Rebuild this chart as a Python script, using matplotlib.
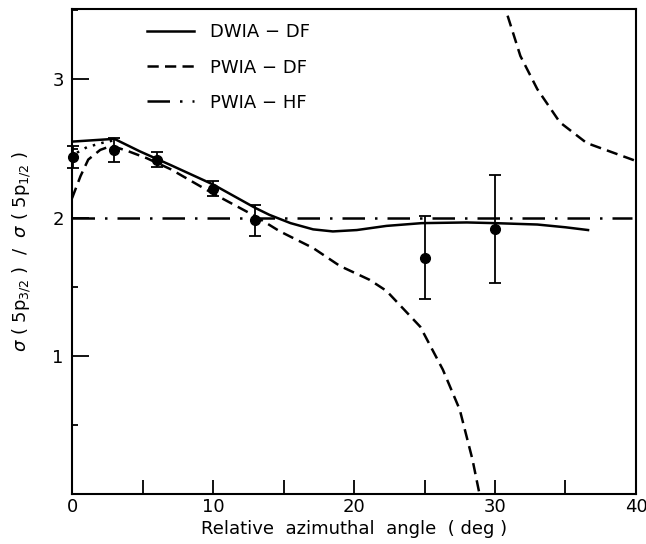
import matplotlib
matplotlib.use("Agg")
import matplotlib.pyplot as plt
from matplotlib.ticker import MultipleLocator

# ---- data ----
dwia_df_x = [0, 3, 4.8, 7, 10, 13, 14, 15.5, 17.1, 18.5, 20.2, 22.3, 24.8, 28, 30, 33, 35, 36.6]
dwia_df_y = [2.55, 2.57, 2.48, 2.38, 2.24, 2.07, 2.02, 1.96, 1.915, 1.90, 1.91, 1.94, 1.96, 1.965, 1.96, 1.95, 1.93, 1.91]

pwia_df_x = [0, 0.6, 1.15, 2.0, 2.8, 4, 5.3, 7, 9.9, 13, 14.75, 17.1, 19, 21.1, 22.3, 24.7, 26.3, 27.5, 28.4, 28.9]
pwia_df_y = [2.14, 2.30, 2.42, 2.49, 2.52, 2.48, 2.43, 2.35, 2.18, 2.01, 1.90, 1.78, 1.65, 1.55, 1.47, 1.21, 0.90, 0.61, 0.25, 0.0]

pwia_df_hi_x = [30.4, 31.8, 33.0, 34.6, 36.5, 40]
pwia_df_hi_y = [3.62, 3.17, 2.93, 2.69, 2.54, 2.41]

pwia_hf_x = [0, 39.7]
pwia_hf_y = [2.0, 2.0]

dotted_x = [0.35, 1.06, 2.1, 3.0]
dotted_y = [2.47, 2.51, 2.54, 2.56]

exp_x = [0.1, 3, 6, 10, 13, 25, 30]
exp_y = [2.44, 2.49, 2.42, 2.21, 1.98, 1.71, 1.92]
exp_err = [0.08, 0.085, 0.055, 0.055, 0.11, 0.30, 0.39]

x_ticks = [0, 10, 20, 30, 40]
y_ticks = [1, 2, 3]

fig = plt.figure(figsize=(6.46, 5.44), dpi=100)
ax = fig.add_axes([0.1115, 0.092, 0.873, 0.8915])

lw = 1.8
l1, = ax.plot(dwia_df_x, dwia_df_y, color="black", lw=lw, solid_joinstyle="round",
              label="DWIA − DF")
l2, = ax.plot(pwia_df_x, pwia_df_y, color="black", lw=lw, label="PWIA − DF")
l2.set_dashes((4.5, 2.5))
l2b, = ax.plot(pwia_df_hi_x, pwia_df_hi_y, color="black", lw=lw)
l2b.set_dashes((4.5, 2.5))
l3, = ax.plot(pwia_hf_x, pwia_hf_y, color="black", lw=lw, label="PWIA − HF")
l3.set_dashes((9, 4, 1, 4))
l4, = ax.plot(dotted_x, dotted_y, color="black", lw=lw)
l4.set_dashes((1, 2.5))

ax.errorbar(exp_x, exp_y, yerr=exp_err, fmt="o", color="black", markersize=7,
            elinewidth=1.3, capsize=4.5, capthick=1.3, clip_on=False, zorder=5)

ax.set_xlim(0, 40)
ax.set_ylim(0, 3.51)
ax.set_xticks(x_ticks)
ax.xaxis.set_minor_locator(MultipleLocator(5))
ax.set_yticks(y_ticks)
ax.yaxis.set_minor_locator(MultipleLocator(0.5))

for s in ax.spines.values():
    s.set_linewidth(1.5)

ax.tick_params(axis="x", which="both", direction="in", length=10, width=1.3,
               labelsize=13, pad=3)
ax.tick_params(axis="y", which="major", direction="in", length=12, width=1.3,
               labelsize=13, pad=6)
ax.tick_params(axis="y", which="minor", direction="in", length=4.5, width=1.3)
ax.tick_params(top=False, right=False, which="both")

ax.set_xlabel("Relative  azimuthal  angle  ( deg )", fontsize=13, labelpad=3)
ax.set_ylabel(r"$\sigma$ ( 5p$_{3/2}$ )  /  $\sigma$ ( 5p$_{1/2}$ )", fontsize=13, labelpad=14)

ax.legend(handles=[l1, l2, l3], loc="upper left", bbox_to_anchor=(0.12, 0.985),
          frameon=False, fontsize=13, handlelength=2.6, handletextpad=0.9,
          labelspacing=0.95, borderaxespad=0)

fig.savefig("out.png", dpi=100)
